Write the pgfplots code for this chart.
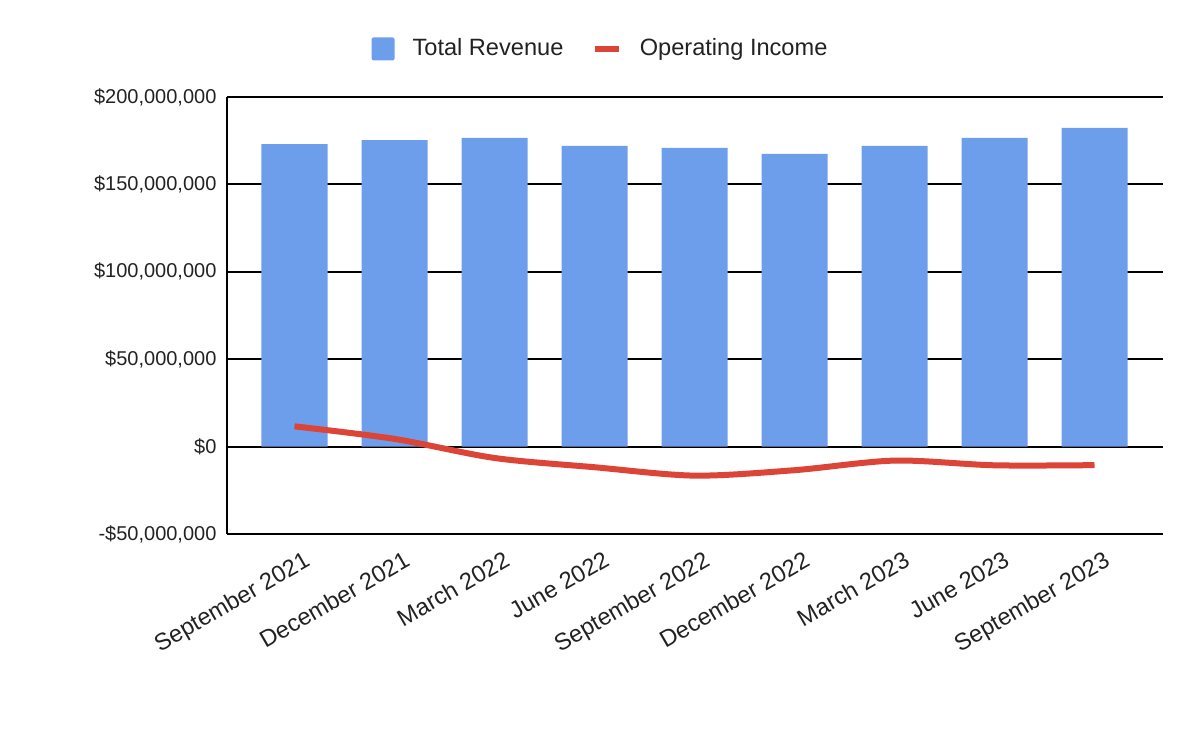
\documentclass[border=0pt]{standalone}
\usepackage{fontspec}
\setmainfont{Liberation Sans}
\usepackage{pgfplots}
\pgfplotsset{compat=1.18}
\definecolor{barblue}{HTML}{6D9EEB}
\definecolor{linered}{HTML}{DB4437}
\definecolor{txt}{HTML}{222222}
\begin{document}
\begin{tikzpicture}
\path[use as bounding box] (0,0) rectangle (600pt,370.5pt);
\begin{axis}[
  at={(113.75pt,103.5pt)}, anchor=south west,
  scale only axis, width=467.5pt, height=218.5pt,
  xmin=-0.67, xmax=8.68, ymin=-50, ymax=200,
  axis lines*=left,
  axis line style={black, line width=1pt, -},
  ymajorgrids, major grid style={black, line width=1pt},
  major tick length=0pt,
  ytick={-50,0,50,100,150,200},
  yticklabels={{-\$50,000,000},{\$0},{\$50,000,000},{\$100,000,000},{\$150,000,000},{\$200,000,000}},
  yticklabel style={font=\fontsize{10}{12}\selectfont, text=txt, xshift=-2pt},
  xtick={0,...,8},
  xticklabels={September 2021,December 2021,March 2022,June 2022,September 2022,December 2022,March 2023,June 2023,September 2023},
  xticklabel style={font=\fontsize{11.8}{13}\selectfont, text=txt, rotate=30, anchor=north east, xshift=3pt, yshift=-5.5pt},
  legend columns=2,
  legend style={at={(rel axis cs:0.4,1.11)}, anchor=center, draw=none, fill=none,
    font=\fontsize{11.8}{13}\selectfont, text=txt,
    /tikz/every even column/.append style={column sep=12pt},
    /tikz/every odd column/.append style={column sep=7pt}},
]
\addplot[ybar, bar width=33pt, fill=barblue, draw=none,
  legend image code/.code={\fill[barblue, rounded corners=1pt] (0pt,-5.75pt) rectangle (11.5pt,5.75pt);}]
  coordinates {(0,173.1) (1,175.4) (2,176.6) (3,172.0) (4,170.9) (5,167.4) (6,172.0) (7,176.6) (8,182.3)};
\addlegendentry{Total Revenue}
\addplot[linered, line width=3pt, smooth, tension=0.5, mark=none,
  legend image code/.code={\draw[linered, line width=3.2pt] (0pt,0pt) -- (12pt,0pt);}]
  coordinates {(0,11.6) (1,4.4) (2,-6.5) (3,-11.8) (4,-16.6) (5,-13.5) (6,-8.0) (7,-10.7) (8,-10.6)};
\addlegendentry{Operating Income}
\end{axis}
\end{tikzpicture}
\end{document}
